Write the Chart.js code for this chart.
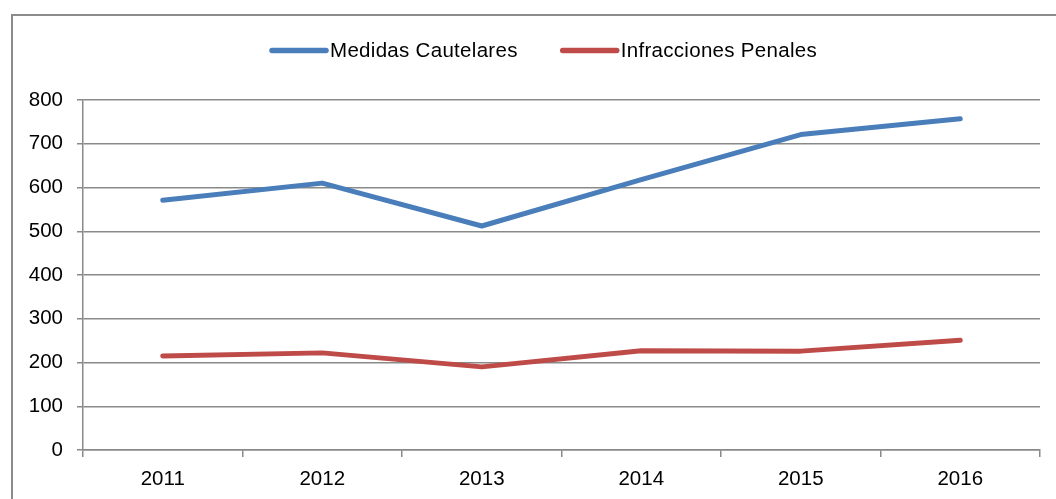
<!DOCTYPE html>
<html>
<head>
<meta charset="utf-8">
<script src="https://cdn.jsdelivr.net/npm/chart.js@4.4.1/dist/chart.umd.min.js"></script>
<style>
  html, body { margin: 0; padding: 0; background: #fff; overflow: hidden; }
  #wrap { position: relative; width: 1056px; height: 499px; }
  #frame { position: absolute; left: 11px; top: 14px; width: 1100px; height: 600px;
           border: 2px solid #8c8c8c; box-sizing: border-box; pointer-events: none; }
</style>
</head>
<body>
<div id="wrap">
  <canvas id="grafico" width="1056" height="499"></canvas>
  <div id="frame"></div>
</div>
<script>
// datos por año
const anios = ['2011', '2012', '2013', '2014', '2015', '2016'];
const medidasCautelares = [571, 610, 512, 618, 721, 757];
const infraccionesPenales = [215, 222, 190, 227, 226, 251];
const ticksY = [0, 100, 200, 300, 400, 500, 600, 700, 800];

const fuente = "'Liberation Sans', Arial, Helvetica, sans-serif";
const gris = '#898989';

// leyenda dibujada a mano: linea corta + texto
const leyendaLineas = {
  id: 'leyendaLineas',
  afterDraw(chart) {
    const ctx = chart.ctx;
    let x = 272;
    const y = 50.5;
    ctx.save();
    ctx.font = '20.5px ' + fuente;
    ctx.letterSpacing = '0.3px';
    ctx.textBaseline = 'middle';
    chart.data.datasets.forEach(ds => {
      ctx.strokeStyle = ds.borderColor;
      ctx.lineWidth = 5.5;
      ctx.lineCap = 'round';
      ctx.beginPath();
      ctx.moveTo(x, y);
      ctx.lineTo(x + 54, y);
      ctx.stroke();
      ctx.fillStyle = '#000';
      ctx.fillText(ds.label, x + 58, y + 1);
      x += 58 + ctx.measureText(ds.label).width + 45;
    });
    ctx.restore();
  }
};

new Chart(document.getElementById('grafico'), {
  type: 'line',
  data: {
    labels: anios,
    datasets: [
      {
        label: 'Medidas Cautelares',
        data: medidasCautelares,
        borderColor: '#4a7ebb',
        borderWidth: 5,
        pointRadius: 0,
        borderCapStyle: 'round',
        borderJoinStyle: 'round',
        tension: 0
      },
      {
        label: 'Infracciones Penales',
        data: infraccionesPenales,
        borderColor: '#be4b48',
        borderWidth: 5,
        pointRadius: 0,
        borderCapStyle: 'round',
        borderJoinStyle: 'round',
        tension: 0
      }
    ]
  },
  options: {
    responsive: false,
    animation: false,
    layout: { padding: { top: 100, right: 16, left: 0, bottom: 0 } },
    plugins: {
      legend: { display: false },
      tooltip: { enabled: false }
    },
    scales: {
      x: {
        offset: true,
        grid: {
          offset: true,
          drawOnChartArea: false,
          drawTicks: true,
          tickLength: 7,
          color: gris,
          lineWidth: 1.5
        },
        border: { color: gris, width: 1.5 },
        ticks: {
          color: '#000',
          padding: 10,
          font: { family: fuente, size: 20.5 }
        },
        afterFit: scale => { scale.height = 49; }
      },
      y: {
        min: 0,
        max: 800,
        afterBuildTicks: scale => { scale.ticks = ticksY.map(v => ({ value: v })); },
        grid: {
          color: gris,
          lineWidth: 1.5,
          drawTicks: true,
          tickLength: 6
        },
        border: { color: gris, width: 1.5 },
        ticks: {
          color: '#000',
          padding: 14,
          font: { family: fuente, size: 20.5 }
        },
        afterFit: scale => { scale.width = 83; }
      }
    }
  },
  plugins: [leyendaLineas]
});
</script>
</body>
</html>
